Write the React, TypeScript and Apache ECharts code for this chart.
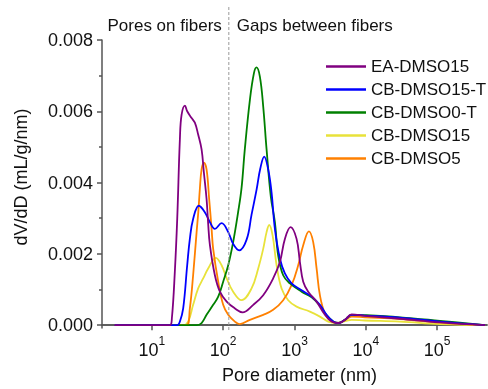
import React, { useEffect, useRef } from 'react';
import * as echarts from 'echarts';

const FONT = "'Liberation Sans', Arial, Helvetica, sans-serif";

const X_TICKS = [10, 100, 1000, 10000, 100000];
const Y_TICKS = [0, 0.002, 0.004, 0.006, 0.008];
const Y_MINOR = [0.001, 0.003, 0.005, 0.007];
const SEPARATOR_D = 120;
const REGION_LABELS = ['Pores on fibers', 'Gaps between fibers'];
const NAMES = ['EA-DMSO15', 'CB-DMSO15-T', 'CB-DMSO0-T', 'CB-DMSO15', 'CB-DMSO5'];
const COLORS = ['#800080', '#0000FF', '#008000', '#E8E23A', '#FF8000'];

const D_EA = [3, 17.9, 19.1, 21.0, 22.7, 24.7, 26.1, 29.1, 31.3, 36.1, 40.1, 44.6, 49.8, 53.6, 58.5, 61.6, 65.1, 76.5, 90, 112, 146, 187, 264, 364, 502, 624, 733, 881, 1069, 1191, 1325, 1556, 2040, 2670, 3311, 4100, 5093, 6324, 9710, 30060, 109400, 470000];
const V_EA = [0, 0, 0.0002, 0.0015, 0.003, 0.0052, 0.0059, 0.00616, 0.006, 0.00581, 0.00568, 0.00535, 0.00493, 0.00429, 0.00354, 0.00285, 0.00225, 0.0014, 0.00094, 0.00066, 0.00047, 0.00036, 0.00057, 0.00084, 0.00131, 0.00177, 0.00242, 0.00275, 0.00242, 0.00177, 0.00122, 0.00094, 0.00066, 0.00029, 0.0001, 0.00006, 0.00015, 0.0003, 0.00026, 0.00018, 0.00008, 0];

const D_CB15T = [3, 22.6, 24.7, 27.5, 31.3, 34.1, 37.9, 45.6, 55.3, 65.1, 76.5, 95, 117.6, 138, 167.6, 213, 250, 294, 332, 376, 428, 477, 531, 624, 733, 910, 1258, 1738, 2271, 2818, 3491, 4100, 5093, 6324, 9710, 30060, 109400, 470000];
const V_CB15T = [0, 0, 0.0001, 0.00047, 0.00168, 0.00242, 0.00298, 0.00335, 0.00317, 0.00289, 0.0027, 0.00286, 0.00261, 0.00228, 0.0021, 0.0024, 0.0031, 0.0038, 0.0044, 0.00473, 0.00437, 0.00372, 0.0027, 0.00187, 0.00145, 0.00117, 0.00098, 0.0008, 0.00057, 0.00029, 0.0001, 0.00006, 0.00015, 0.00029, 0.00027, 0.00021, 0.0001, 0];

const D_CB0T = [3, 42.4, 49.8, 58.5, 72.4, 85.2, 100, 117.6, 138, 162, 181, 201, 237, 270, 294, 327, 364, 406, 466, 531, 590, 694, 861, 1258, 1738, 2271, 2818, 3491, 4100, 5093, 6324, 9710, 30060, 109400, 470000];
const V_CB0T = [0, 0, 0.00006, 0.00029, 0.00057, 0.0008, 0.00122, 0.00168, 0.00233, 0.00317, 0.00385, 0.00493, 0.00632, 0.00707, 0.00723, 0.00697, 0.00614, 0.00493, 0.0036, 0.00289, 0.00196, 0.0014, 0.00117, 0.00094, 0.00078, 0.00055, 0.00028, 0.0001, 0.00006, 0.00015, 0.00029, 0.00028, 0.00022, 0.00012, 0];

const D_CB15 = [3, 27.5, 32.3, 37.9, 44.6, 52.4, 61.6, 79, 95, 112, 138, 181, 250, 310, 364, 406, 442, 493, 561, 659, 816, 1069, 1644, 2271, 2970, 3890, 6324, 9710, 30060, 109400, 470000];
const V_CB15 = [0, 0, 0.0001, 0.00057, 0.00103, 0.00131, 0.00159, 0.00189, 0.00168, 0.00131, 0.00094, 0.0007, 0.00103, 0.00159, 0.00214, 0.00261, 0.00281, 0.00252, 0.00168, 0.00103, 0.0007, 0.00052, 0.00038, 0.00024, 0.0001, 0.00006, 0.00015, 0.00013, 0.0001, 0.00003, 0];

const D_CB5 = [3, 30.7, 34.1, 37.9, 42.4, 44.9, 47.1, 49.8, 53.6, 58.5, 63.6, 68.8, 72.4, 85.2, 100, 117.6, 146, 171, 237, 364, 502, 694, 910, 1127, 1325, 1592, 1829, 2040, 2271, 2670, 3311, 4100, 5093, 6324, 9710, 30060, 109400, 470000];
const V_CB5 = [0, 0, 0.00047, 0.0014, 0.00261, 0.0032, 0.00382, 0.00437, 0.00456, 0.00437, 0.00354, 0.0027, 0.00214, 0.00122, 0.00057, 0.00029, 0.0001, 0.00003, 0.00015, 0.00029, 0.00043, 0.0007, 0.00112, 0.00168, 0.00224, 0.00263, 0.00233, 0.00159, 0.00084, 0.00033, 0.0001, 0.00006, 0.00014, 0.00024, 0.00022, 0.00017, 0.00007, 0];

const SERIES = [
  { name: NAMES[3], color: COLORS[3], d: D_CB15, v: V_CB15 },
  { name: NAMES[4], color: COLORS[4], d: D_CB5, v: V_CB5 },
  { name: NAMES[2], color: COLORS[2], d: D_CB0T, v: V_CB0T },
  { name: NAMES[1], color: COLORS[1], d: D_CB15T, v: V_CB15T },
  { name: NAMES[0], color: COLORS[0], d: D_EA, v: V_EA },
];

const AXIS_COLOR = '#555555';

export default function App() {
  const ref = useRef<HTMLDivElement>(null);
  useEffect(() => {
    if (!ref.current) return;
    const chart = echarts.init(ref.current, undefined, { renderer: 'svg' });
    const option: any = {
      animation: false,
      textStyle: { fontFamily: FONT },
      grid: { left: 102, right: 1, top: 40, bottom: 59, containLabel: false },
      legend: {
        data: NAMES,
        orient: 'vertical',
        left: 326,
        top: 58,
        padding: 0,
        icon: 'rect',
        itemWidth: 40,
        itemHeight: 2.5,
        itemGap: 6,
        textStyle: { fontFamily: FONT, fontSize: 17, color: '#111' },
      },
      xAxis: [
        {
          type: 'log',
          logBase: 10,
          min: 2,
          max: 500000,
          position: 'bottom',
          name: 'Pore diameter (nm)',
          nameLocation: 'middle',
          nameGap: 38,
          nameTextStyle: { fontFamily: FONT, fontSize: 18, color: '#111', padding: [0, 0, 0, 10] },
          axisLine: { show: true, lineStyle: { color: AXIS_COLOR, width: 1.5 } },
          axisTick: { show: true, length: 5, customValues: X_TICKS, lineStyle: { color: AXIS_COLOR, width: 1.5 } },
          minorTick: { show: false },
          splitLine: { show: false },
          axisLabel: {
            customValues: X_TICKS,
            margin: 7,
            formatter: (v: number) => '{b|10}{s|' + Math.round(Math.log10(v)) + '}',
            rich: {
              b: { fontFamily: FONT, fontSize: 18, color: '#111', lineHeight: 30 },
              s: { fontFamily: FONT, fontSize: 12, color: '#111', lineHeight: 12, verticalAlign: 'top' },
            },
          },
        },
        {
          type: 'log',
          logBase: 10,
          min: 2,
          max: 500000,
          position: 'top',
          axisLine: { show: true, lineStyle: { color: AXIS_COLOR, width: 1.5 } },
          axisTick: { show: false },
          axisLabel: { show: false },
          splitLine: { show: false },
        },
      ],
      yAxis: [
        {
          type: 'value',
          min: -0.00008,
          max: 0.008,
          name: 'dV/dD (mL/g/nm)',
          nameLocation: 'middle',
          nameGap: 72,
          nameTextStyle: { fontFamily: FONT, fontSize: 18, color: '#111', padding: [0, 0, 0, 14] },
          axisLine: { show: true, lineStyle: { color: AXIS_COLOR, width: 1.5 } },
          axisTick: { show: true, length: 5, customValues: Y_TICKS, lineStyle: { color: AXIS_COLOR, width: 1.5 } },
          splitLine: { show: false },
          axisLabel: {
            customValues: Y_TICKS,
            margin: 9,
            fontFamily: FONT,
            fontSize: 18,
            color: '#111',
            formatter: (v: number) => v.toFixed(3),
          },
        },
        {
          type: 'value',
          min: -0.00008,
          max: 0.008,
          position: 'left',
          axisLine: { show: false },
          axisTick: { show: true, length: 3, customValues: Y_MINOR, lineStyle: { color: AXIS_COLOR, width: 1.5 } },
          axisLabel: { show: false },
          splitLine: { show: false },
        },
      ],
      series: SERIES.map((s) => ({
        name: s.name,
        type: 'line',
        xAxisIndex: 0,
        yAxisIndex: 0,
        data: s.d.map((d, i) => [d, s.v[i]]),
        smooth: 0.4,
        symbol: 'none',
        showSymbol: false,
        color: s.color,
        lineStyle: { color: s.color, width: 1.8 },
        itemStyle: { color: s.color },
      })),
    };
    chart.setOption(option);
    const px = chart.convertToPixel({ xAxisIndex: 0 }, SEPARATOR_D) as number;
    chart.setOption({
      graphic: [
        {
          type: 'line',
          shape: { x1: px, y1: 7, x2: px, y2: 330 },
          style: { stroke: '#999', lineWidth: 1, lineDash: [3, 2] },
          z: 100,
        },
        {
          type: 'text',
          x: px - 7,
          y: 25,
          style: { text: REGION_LABELS[0], fontFamily: FONT, fontSize: 17, fill: '#111', align: 'right', verticalAlign: 'middle' },
        },
        {
          type: 'text',
          x: px + 8,
          y: 25,
          style: { text: REGION_LABELS[1], fontFamily: FONT, fontSize: 17, fill: '#111', align: 'left', verticalAlign: 'middle' },
        },
      ],
    });
    return () => chart.dispose();
  }, []);
  return <div ref={ref} style={{ position: 'fixed', left: 0, top: 0, width: 488, height: 389 }} />;
}
